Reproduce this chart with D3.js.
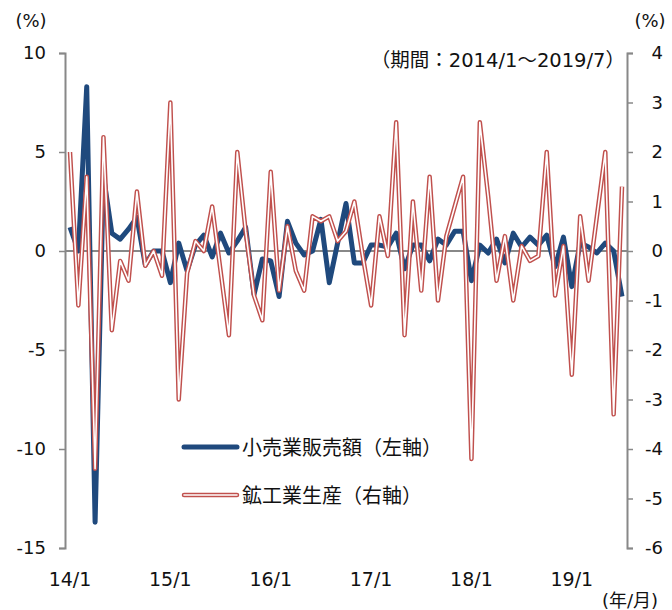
<!DOCTYPE html>
<html>
<head>
<meta charset="utf-8">
<script src="https://cdn.jsdelivr.net/npm/d3@7"></script>
<style>
  body { margin: 0; background: #fff; }
  text { font-family: "DejaVu Sans", "Noto Sans CJK JP", sans-serif; fill: #111; }
</style>
</head>
<body>
<svg id="chart" width="672" height="610"></svg>
<script>
// monthly series 2014/1 - 2019/7 (67 months)
const years = [2014, 2015, 2016, 2017, 2018, 2019];
const retailSales = [
    1.2, 0.0, 8.3, -13.7, 3.8, 0.9, 0.6, 1.1, 1.7, -0.7, 0.0, 0.0,
    -1.6, 0.4, -1.0, 0.3, 0.8, -0.3, 0.9, -0.1, 0.5, 1.2, -2.2, -0.4,
    -0.5, -2.3, 1.5, 0.4, -0.2, 0.0, 1.6, -1.6, 0.4, 2.4, -0.6, -0.6,
    0.3, 0.3, 0.2, 0.9, -0.9, 0.3, 0.3, -0.5, 0.6, 0.3, 1.0, 1.0,
    -1.5, 0.3, -0.1, 0.6, -0.6, 0.9, 0.2, 0.7, 0.3, 0.8, -0.8, 0.7,
    -1.8, 0.4, 0.2, -0.1, 0.4, 0.0, -2.3
];
const industrialProd = [
    2.0, -1.1, 1.5, -4.4, 2.3, -1.6, -0.2, -0.6, 1.2, -0.3, 0.0, -0.5,
    3.0, -3.0, -0.45, 0.2, 0.0, 0.9, -0.4, -1.7, 2.0, 0.4, -0.9, -1.4,
    1.6, -0.8, 0.5, -0.4, -0.8, 0.7, 0.6, 0.7, 0.2, 0.4, 1.0, -0.1,
    -1.1, 0.7, -0.1, 2.6, -1.7, 1.0, -0.8, 1.5, -1.0, 0.3, 0.9, 1.5,
    -4.2, 2.6, 1.1, -0.6, 0.3, -1.0, 0.1, -0.2, -0.1, 2.0, -0.9, 0.1,
    -2.5, 0.7, -0.6, 0.7, 2.0, -3.3, 1.3
];
const leftTicks = [10, 5, 0, -5, -10, -15];
const rightTicks = [4, 3, 2, 1, 0, -1, -2, -3, -4, -5, -6];
const xTickLabels = ["14/1", "15/1", "16/1", "17/1", "18/1", "19/1"];

const months = retailSales.map((d, i) => `${years[0] + Math.floor(i / 12)}/${(i % 12) + 1}`);

const svg = d3.select("#chart");
const axisColor = "#888";
const blue = "#1f497d";
const red = "#c0504d";

const x = d3.scalePoint().domain(months).range([70, 622]);
const yLeft = d3.scaleLinear().domain([-15, 10]).range([548, 53]);
const yRight = d3.scaleLinear().domain([-6, 4]).range([548, 53]);

// zero line
svg.append("line")
    .attr("x1", 65).attr("x2", 627)
    .attr("y1", yLeft(0)).attr("y2", yLeft(0))
    .attr("stroke", axisColor)
    .attr("stroke-width", 1.8);

// left axis
const leftAxis = svg.append("g")
    .attr("transform", "translate(65,0)")
    .call(d3.axisLeft(yLeft).tickValues(leftTicks).tickFormat(d => String(d)).tickSize(6).tickPadding(13));
leftAxis.select(".domain").attr("stroke", axisColor).attr("stroke-width", 2);
leftAxis.selectAll("line").attr("stroke", axisColor).attr("stroke-width", 1.5);
leftAxis.selectAll("text")
    .style("font-size", "18px")
    .style("font-family", "DejaVu Sans")
    .attr("fill", "#111");

// right axis
const rightAxis = svg.append("g")
    .attr("transform", "translate(627,0)")
    .call(d3.axisRight(yRight).tickValues(rightTicks).tickFormat(d => String(d)).tickSize(6).tickPadding(0));
rightAxis.select(".domain").attr("stroke", axisColor).attr("stroke-width", 2);
rightAxis.selectAll("line").attr("stroke", axisColor).attr("stroke-width", 1.5);
rightAxis.selectAll("text")
    .attr("text-anchor", "end")
    .attr("x", 36)
    .style("font-size", "18px")
    .style("font-family", "DejaVu Sans")
    .attr("fill", "#111");

// x labels (January of every year)
svg.append("g")
    .selectAll("text")
    .data(xTickLabels)
    .enter()
    .append("text")
    .attr("x", (d, i) => x(`${years[i]}/1`))
    .attr("y", 586)
    .attr("text-anchor", "middle")
    .style("font-size", "19px")
    .text(d => d);

svg.append("text").attr("x", 31).attr("y", 27).attr("text-anchor", "middle")
    .style("font-size", "18px").text("(%)");
svg.append("text").attr("x", 650).attr("y", 27).attr("text-anchor", "middle")
    .style("font-size", "18px").text("(%)");
svg.append("text").attr("x", 658).attr("y", 607).attr("text-anchor", "end")
    .style("font-size", "18px").text("(年/月)");
svg.append("text").attr("x", 625).attr("y", 67).attr("text-anchor", "end")
    .style("font-size", "19.5px").text("（期間：2014/1～2019/7）");

// lines
const lineLeft = d3.line()
    .x((d, i) => x(months[i]))
    .y(d => yLeft(d));
const lineRight = d3.line()
    .x((d, i) => x(months[i]))
    .y(d => yRight(d));

svg.append("path")
    .datum(retailSales)
    .attr("fill", "none")
    .attr("stroke", blue)
    .attr("stroke-width", 5)
    .attr("stroke-linejoin", "round")
    .attr("d", lineLeft);

svg.append("path")
    .datum(industrialProd)
    .attr("fill", "none")
    .attr("stroke", red)
    .attr("stroke-width", 4.5)
    .attr("stroke-linejoin", "round")
    .attr("d", lineRight);

svg.append("path")
    .datum(industrialProd)
    .attr("fill", "none")
    .attr("stroke", "#fff")
    .attr("stroke-width", 1.6)
    .attr("stroke-linejoin", "round")
    .attr("d", lineRight);

// legend
const legend = svg.append("g");
legend.append("line")
    .attr("x1", 184).attr("x2", 237).attr("y1", 447).attr("y2", 447)
    .attr("stroke", blue).attr("stroke-width", 5).attr("stroke-linecap", "round");
legend.append("text").attr("x", 242).attr("y", 455)
    .style("font-size", "20px").text("小売業販売額（左軸）");

legend.append("line")
    .attr("x1", 184).attr("x2", 237).attr("y1", 495).attr("y2", 495)
    .attr("stroke", red).attr("stroke-width", 4.5).attr("stroke-linecap", "round");
legend.append("line")
    .attr("x1", 184).attr("x2", 237).attr("y1", 495).attr("y2", 495)
    .attr("stroke", "#fff").attr("stroke-width", 1.6).attr("stroke-linecap", "round");
legend.append("text").attr("x", 242).attr("y", 503)
    .style("font-size", "20px").text("鉱工業生産（右軸）");
</script>
</body>
</html>
